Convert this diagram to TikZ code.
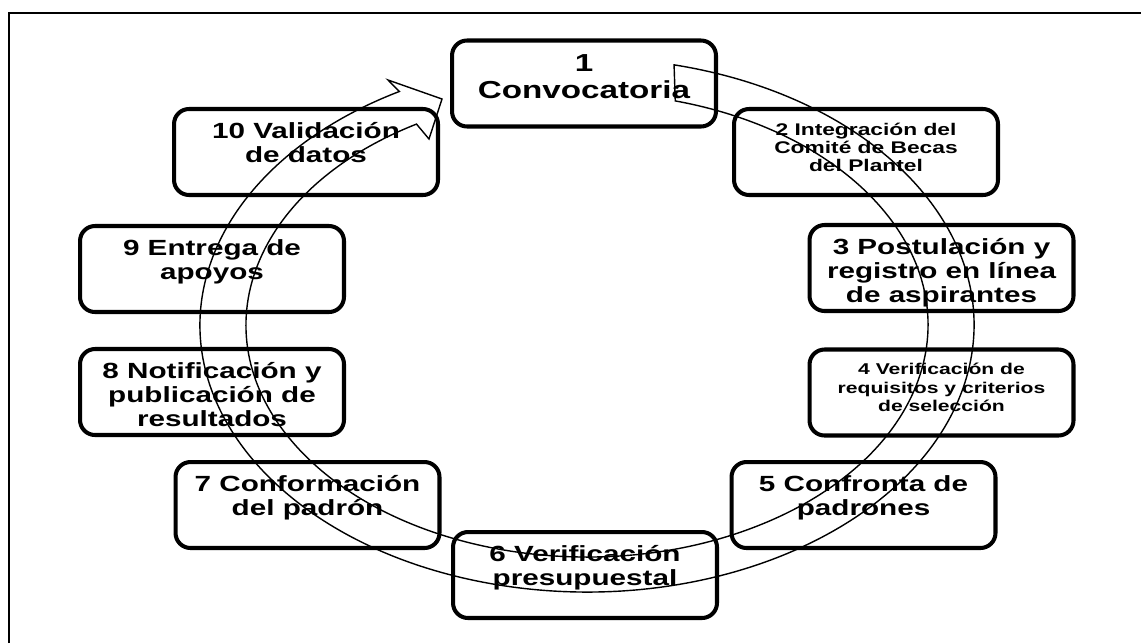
\documentclass[tikz,border=0pt]{standalone}
\usepackage{fontspec}
\setmainfont{Liberation Sans}[FakeStretch=1.35]
\usetikzlibrary{positioning}

\tikzset{
  stepbox/.style={draw, line width=2.3pt, rounded corners=0.3cm,
    minimum width=5.28cm, minimum height=1.72cm, inner sep=0pt},
  steptext/.style={align=center, inner sep=0pt,
    font=\bfseries\fontsize{12.5}{13.5}\selectfont},
  smalltext/.style={align=center, inner sep=0pt,
    font=\bfseries\fontsize{9.6}{10.3}\selectfont},
  tinytext/.style={align=center, inner sep=0pt,
    font=\bfseries\fontsize{8.9}{10.5}\selectfont},
  ring/.style={line width=0.8pt, line join=miter}
}

\begin{document}
\begin{tikzpicture}[x=0.02cm, y=-0.02cm]
    \useasboundingbox (0,0) rectangle (1141,643);

    % frame (top and left edges only)
    \draw[line width=1.2pt] (9,643) -- (9,13) -- (1141,13);

    % the ten steps, clockwise from the top
    \node[stepbox] (b1) at (584,83.5) {};
    \node[stepbox] (b2) at (866,152) {};
    \node[stepbox] (b3) at (941.5,268) {};
    \node[stepbox] (b4) at (941.5,392.5) {};
    \node[stepbox] (b5) at (863.5,505) {};
    \node[stepbox] (b6) at (585,575) {};
    \node[stepbox] (b7) at (307.5,505) {};
    \node[stepbox] (b8) at (212,392) {};
    \node[stepbox] (b9) at (212,269) {};
    \node[stepbox] (b10) at (306,152) {};

    % labels, hung from the top of each box
    \node[steptext, font=\bfseries\fontsize{14}{15.3}\selectfont,
          below=8.8pt of b1.north] (t1) {1\\Convocatoria};
    \node[smalltext, below=9pt of b2.north] (t2) {2 Integración del\\Comité de Becas\\del Plantel};
    \node[steptext, below=8.8pt of b3.north] (t3) {3 Postulación y\\registro en línea\\de aspirantes};
    \node[tinytext, below=8.8pt of b4.north] (t4) {4 Verificación de\\requisitos y criterios\\de selección};
    \node[steptext, below=8.8pt of b5.north] (t5) {5 Confronta de\\padrones};
    \node[steptext, below=8.8pt of b6.north] (t6) {6 Verificación\\presupuestal};
    \node[steptext, below=8.8pt of b7.north] (t7) {7 Conformación\\del padrón};
    \node[steptext, below=8.8pt of b8.north] (t8) {8 Notificación y\\publicación de\\resultados};
    \node[steptext, below=8.8pt of b9.north] (t9) {9 Entrega de\\apoyos};
    \node[steptext, below=8.8pt of b10.north] (t10) {10 Validación\\de datos};

    % circular arrow running clockwise through the boxes
    \draw[ring] ({587+387*cos(-77)},{325+267*sin(-77)})
        arc[start angle=-77, end angle=241, x radius=387, y radius=267]
        -- (388,80) -- (442,99) -- (429,139)
        -- ({587+341*cos(240)},{325+232*sin(240)})
        arc[start angle=240, end angle=-75, x radius=341, y radius=232]
        -- cycle;
\end{tikzpicture}
\end{document}
